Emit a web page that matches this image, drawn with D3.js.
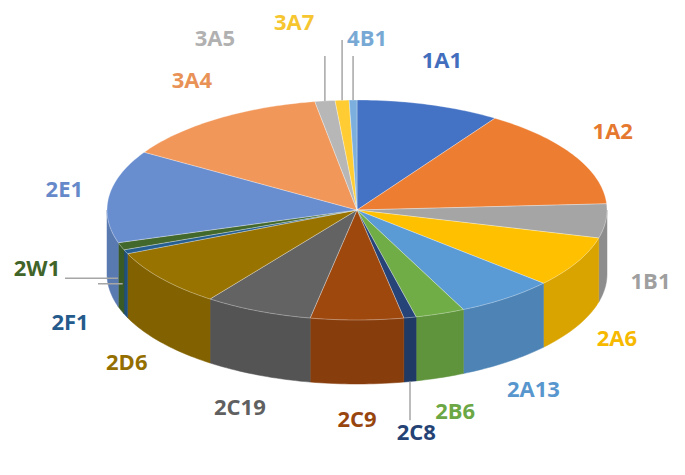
<!DOCTYPE html>
<html><head><meta charset="utf-8">
<script src="https://cdn.jsdelivr.net/npm/d3@7"></script>
<style>body{margin:0;background:#fff}</style></head>
<body><svg id="c" width="685" height="475"></svg>
<script>
const categories = ["1A1","1A2","1B1","2A6","2A13","2B6","2C8","2C9","2C19","2D6","2F1","2W1","2E1","3A4","3A5","3A7","4B1"];
const values = [9.3,14.8,5,7.5,6.4,3.2,0.8,6,7,8.5,0.6,1.1,13.6,13.5,1.3,0.9,0.5];
const colors = ["#4472C4","#ED7D31","#A5A5A5","#FFC000","#5B9BD5","#70AD47","#264478","#9E480E","#636363","#997300","#255E91","#43682B","#698ED0","#F1975A","#B7B7B7","#FFCD33","#7CAFDD"];

const svg = d3.select("#c");
const cx = 357, cy = 210, rx = 250, ry = 110, depth = 64;
const pie = d3.pie().sort(null).value(d => d)(values);
const P = (a, dy=0) => [cx + rx*Math.sin(a), cy - ry*Math.cos(a) + dy];
const line = d3.line();
function arcPts(a0, a1, dy=0){const n=Math.max(2,Math.ceil((a1-a0)/0.02));return d3.range(n+1).map(i=>P(a0+(a1-a0)*i/n,dy));}

pie.forEach((s,i)=>{
  const a0=Math.max(s.startAngle,Math.PI/2), a1=Math.min(s.endAngle,3*Math.PI/2);
  if(a1<=a0) return;
  const top=arcPts(a0,a1), bot=arcPts(a0,a1,depth).reverse();
  const c=d3.color(colors[i]).darker(0.45);
  svg.append("path").attr("d",line(top.concat(bot))+"Z").attr("fill",c).attr("stroke",c).attr("stroke-width",0.5);
});
pie.forEach((s,i)=>{
  const pts=[[cx,cy]].concat(arcPts(s.startAngle,s.endAngle));
  svg.append("path").attr("d",line(pts)+"Z").attr("fill",colors[i]).attr("stroke","#fff").attr("stroke-width",0.6).attr("stroke-opacity",0.5);
});

// label layout
const labels = pie.map((s,i)=>{
  const m=(s.startAngle+s.endAngle)/2, small=values[i]<2, front=Math.cos(m)<0;
  const kx=small?1.12:1.18, ky=small?1.55:1.4;
  let x=cx+rx*kx*Math.sin(m), y=cy-ry*ky*Math.cos(m);
  if(front) y+=depth*0.9;
  return {i,m,small,front,x,y,e:P(m,front?depth*0.5:0)};
});
// top small labels: spread horizontally (right to left)
const topSmall = labels.filter(l=>l.small && !l.front).sort((a,b)=>b.m-a.m);
topSmall.forEach((l,k)=>{
  l.x = l.e[0] + 14 - k*62;
  l.y = 40 - (k===1?16:0);
});
// left small labels: spread vertically
const leftSmall = labels.filter(l=>l.small && l.front && Math.sin(l.m)<-0.5).sort((a,b)=>b.m-a.m);
leftSmall.forEach((l,k)=>{ l.x = 37 + k*33; l.y = 270 + k*54; });

labels.forEach(l=>{
  const i=l.i;
  if(l.small){
    let pts;
    if(!l.front) pts=[l.e,[l.e[0],l.y+18],[l.x,l.y+18]];
    else if(Math.sin(l.m)<-0.5) pts=[[l.e[0]-3,l.e[1]],[l.x+28,l.e[1]]];
    else pts=[[l.e[0],l.e[1]+depth*0.5],[l.e[0],l.y-14]];
    if(!l.front) pts=[l.e,[l.e[0],l.y+16]];
    svg.append("polyline").attr("points",pts.map(p=>p.join(",")).join(" "))
      .attr("fill","none").attr("stroke","#a6a6a6").attr("stroke-width",1.5);
  }
  svg.append("text").attr("x",l.x).attr("y",l.y).attr("text-anchor","middle").attr("dominant-baseline","middle")
    .attr("font-family","Open Sans, sans-serif").attr("font-weight","bold").attr("font-size",22)
    .attr("fill",d3.color(colors[i]).darker(0.1)).text(categories[i]);
});
</script></body></html>
